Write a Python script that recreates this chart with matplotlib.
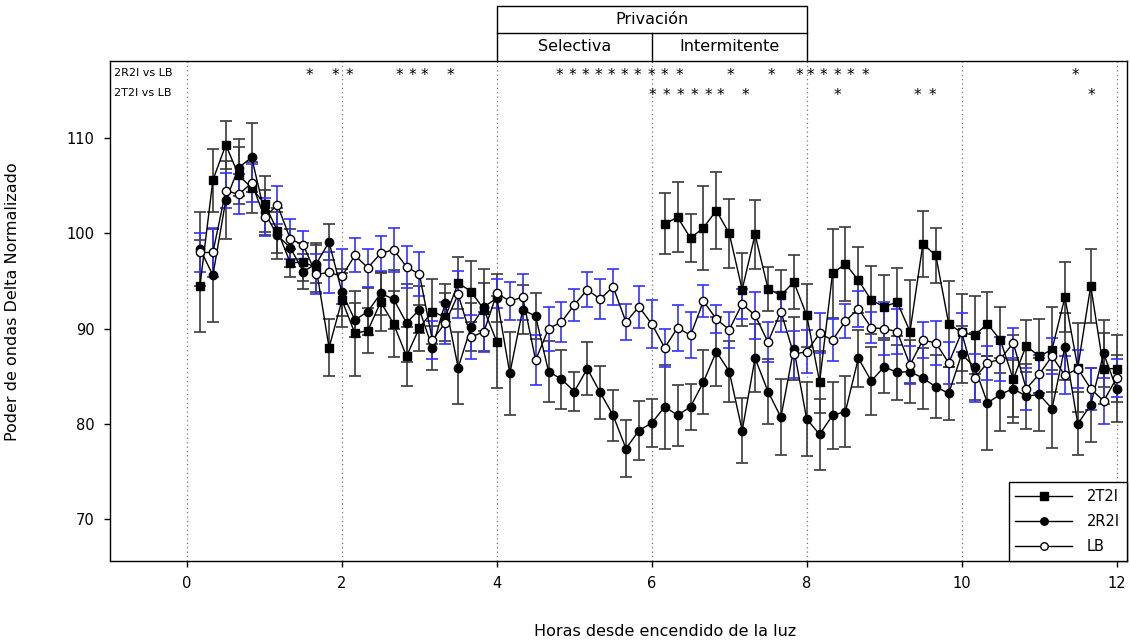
import numpy as np
import matplotlib
matplotlib.use("Agg")
import matplotlib.pyplot as plt
import matplotlib.transforms as mtransforms

# 10-min bins after lights on (72 bins = 12 h)
hours = np.arange(1, 73) / 6.0

nan = np.nan

# 2T2I: no recording during the selective deprivation block (4-6 h)
t2i_mean = [94.5, 105.6, 109.3, 106.1, 104.8, 103.1, 100.3, 96.9, 97.0, 96.4, 88.0, 93.0,
            89.5, 89.8, 92.8, 90.5, 87.1, 90.1, 91.8, 91.2, 94.8, 93.9, 92.0, 88.6,
            nan, nan, nan, nan, nan, nan, nan, nan, nan, nan, nan, nan,
            101.0, 101.7, 99.5, 100.6, 102.4, 100.0, 94.1, 99.9, 94.2, 93.5, 94.9, 91.4,
            84.4, 95.8, 96.8, 95.1, 93.0, 92.3, 92.8, 89.7, 98.9, 97.7, 90.5, 89.6,
            89.3, 90.5, 88.8, 84.7, 88.2, 87.1, 87.8, 93.3, 85.9, 94.5, 85.8, 85.8]
t2i_sem = [4.8, 3.3, 2.5, 3.0, 2.7, 2.9, 2.4, 1.5, 2.0, 2.6, 3.0, 2.8,
           4.5, 2.4, 3.0, 3.5, 3.1, 2.4, 3.4, 2.5, 2.7, 3.2, 4.3, 4.8,
           nan, nan, nan, nan, nan, nan, nan, nan, nan, nan, nan, nan,
           3.2, 3.7, 2.5, 4.4, 4.0, 3.6, 3.8, 3.6, 2.3, 2.7, 2.8, 3.3,
           3.3, 4.7, 3.9, 3.5, 3.6, 3.3, 3.6, 5.4, 3.5, 2.9, 4.5, 4.0,
           4.1, 3.4, 3.5, 4.6, 2.7, 3.9, 4.5, 3.7, 4.7, 3.9, 3.7, 3.5]

r2i_mean = [98.4, 95.6, 103.5, 106.9, 108.0, 102.2, 99.8, 98.5, 96.0, 96.8, 99.1, 93.8,
            90.9, 91.8, 93.7, 93.1, 90.6, 92.0, 88.0, 92.7, 85.9, 90.2, 92.3, 93.2,
            85.3, 92.0, 91.3, 85.5, 84.7, 83.4, 85.8, 83.3, 80.9, 77.4, 79.3, 80.1,
            81.8, 80.9, 81.8, 84.4, 87.6, 85.5, 79.3, 86.9, 83.4, 80.7, 87.9, 80.5,
            78.9, 80.9, 81.3, 86.9, 84.5, 86.0, 85.4, 85.5, 84.8, 83.9, 83.2, 87.3,
            86.0, 82.2, 83.1, 83.7, 82.9, 83.1, 81.6, 88.1, 80.0, 82.0, 87.4, 83.7]
r2i_sem = [3.9, 4.9, 4.1, 3.0, 3.6, 2.4, 2.5, 2.0, 1.8, 2.0, 1.9, 2.5,
           1.8, 2.5, 2.3, 3.1, 4.1, 2.5, 2.3, 2.0, 3.8, 2.5, 2.5, 2.5,
           4.4, 2.6, 2.4, 3.2, 3.1, 2.0, 2.8, 2.8, 2.7, 3.0, 3.1, 2.5,
           4.4, 3.2, 2.4, 3.4, 3.6, 3.2, 3.4, 3.6, 3.4, 4.0, 3.3, 3.9,
           3.7, 3.5, 3.7, 3.0, 3.6, 2.8, 2.9, 3.3, 3.2, 3.3, 2.8, 3.0,
           3.5, 4.9, 3.8, 3.0, 3.4, 3.8, 4.1, 3.5, 3.3, 3.9, 3.5, 3.5]

lb_mean = [98.0, 98.0, 104.5, 104.1, 105.3, 101.7, 103.0, 99.4, 98.8, 95.7, 95.9, 95.5,
           97.7, 96.4, 97.9, 98.3, 96.5, 95.7, 88.8, 90.6, 93.6, 89.1, 89.7, 93.7,
           92.9, 93.3, 86.7, 90.0, 90.7, 92.5, 94.1, 93.1, 94.4, 90.7, 92.3, 90.5,
           88.0, 90.1, 89.3, 92.9, 91.0, 89.9, 92.6, 91.4, 88.6, 91.8, 87.3, 87.6,
           89.5, 88.8, 90.8, 92.1, 90.1, 90.0, 89.7, 86.2, 88.8, 88.5, 86.4, 89.6,
           84.8, 86.4, 86.8, 88.5, 83.7, 85.2, 87.1, 85.1, 85.8, 83.7, 82.4, 84.8]
lb_sem = [2.0, 2.6, 1.8, 2.1, 2.0, 2.0, 2.0, 2.1, 1.5, 2.1, 2.2, 2.9,
          1.8, 2.0, 1.8, 2.3, 2.2, 2.3, 2.0, 2.2, 2.5, 2.3, 2.1, 1.5,
          2.0, 2.4, 2.6, 2.3, 2.1, 1.7, 1.8, 2.1, 1.9, 1.9, 2.2, 2.5,
          2.0, 2.4, 2.4, 1.7, 1.5, 1.9, 1.6, 2.5, 2.1, 2.1, 2.5, 2.3,
          2.1, 2.2, 1.8, 1.9, 1.6, 2.8, 2.4, 2.0, 1.9, 2.3, 2.2, 2.0,
          2.5, 1.8, 2.3, 1.6, 2.2, 2.0, 1.9, 2.0, 2.0, 2.2, 2.4, 2.0]

# significance marks (hours)
sig_r2i_vs_lb = [1.58, 1.92, 2.09, 2.74, 2.91, 3.07, 3.40,
                 4.81, 4.97, 5.14, 5.31, 5.48, 5.65, 5.82, 5.99, 6.16, 6.35,
                 7.02, 7.54, 7.90, 8.05, 8.22, 8.40, 8.57, 8.76, 11.47]
sig_t2i_vs_lb = [6.01, 6.19, 6.37, 6.55, 6.73, 6.89, 7.21, 8.40, 9.43, 9.62, 11.68]

GREY = "#3a3a3a"
BLUE = "#3333ff"


def main():
    fig = plt.figure(figsize=(11.3, 6.43), dpi=100)
    ax = fig.add_axes([0.097, 0.1275, 0.9, 0.7775])

    for x in range(0, 13, 2):
        ax.axvline(x, color="#777777", ls=(0, (1, 2.5)), lw=0.9, zorder=1)

    series = [
        (t2i_mean, t2i_sem, "s", "black", GREY, "2T2I"),
        (r2i_mean, r2i_sem, "o", "black", GREY, "2R2I"),
        (lb_mean, lb_sem, "o", "white", BLUE, "LB"),
    ]
    for i, (m, e, mk, fc, ec, lab) in enumerate(series):
        ax.errorbar(hours, m, yerr=e, fmt="none", ecolor=ec, elinewidth=1.2,
                    capsize=4, capthick=1.2, zorder=2 + i)
        ax.plot(hours, m, color="black", lw=1.0, marker=mk, ms=6,
                mfc=fc, mec="black", mew=1.0, label=lab, zorder=5 + i)

    ax.set_xlim(-1.0, 12.13)
    ax.set_ylim(65.6, 118.1)
    ax.set_xticks(range(0, 13, 2))
    ax.set_yticks([70, 80, 90, 100, 110])
    ax.tick_params(direction="out", length=4, width=1, labelsize=10.5, pad=7,
                   top=False, right=False)
    for sp in ax.spines.values():
        sp.set_linewidth(1.0)

    ax.set_xlabel("Horas desde encendido de la luz", fontsize=11.5)
    ax.xaxis.set_label_coords(0.546, -0.126)
    ax.set_ylabel("Poder de ondas Delta Normalizado", fontsize=11.5)
    ax.yaxis.set_label_coords(-0.088, 0.518)

    # header box above the deprivation period
    trans = mtransforms.blended_transform_factory(ax.transData, ax.transAxes)
    kw = dict(color="black", lw=1.0, transform=trans, clip_on=False)
    ax.plot([4, 4, 8, 8], [1.0, 1.11, 1.11, 1.0], **kw)
    ax.plot([4, 8], [1.0566, 1.0566], **kw)
    ax.plot([6, 6], [1.0, 1.0566], **kw)
    ax.text(6, 1.084, "Privación", transform=trans, ha="center", va="center", fontsize=11.5)
    ax.text(5, 1.029, "Selectiva", transform=trans, ha="center", va="center", fontsize=11.5)
    ax.text(7, 1.029, "Intermitente", transform=trans, ha="center", va="center", fontsize=11.5)

    # significance rows
    ax.text(0.004, 0.976, "2R2I vs LB", transform=ax.transAxes, ha="left", va="center", fontsize=8)
    ax.text(0.004, 0.936, "2T2I vs LB", transform=ax.transAxes, ha="left", va="center", fontsize=8)
    for x in sig_r2i_vs_lb:
        ax.text(x, 0.971, "*", transform=trans, ha="center", va="center", fontsize=11)
    for x in sig_t2i_vs_lb:
        ax.text(x, 0.931, "*", transform=trans, ha="center", va="center", fontsize=11)

    leg = ax.legend(loc="lower right", bbox_to_anchor=(1.0, 0.0), borderaxespad=0.0,
                    fontsize=10.5, handlelength=3.9, handletextpad=1.0, labelspacing=0.7,
                    fancybox=False, framealpha=1.0, edgecolor="black",
                    borderpad=0.45, markerscale=0.9)
    leg.get_frame().set_linewidth(1.0)

    fig.savefig("out.png", dpi=100)


if __name__ == "__main__":
    main()
